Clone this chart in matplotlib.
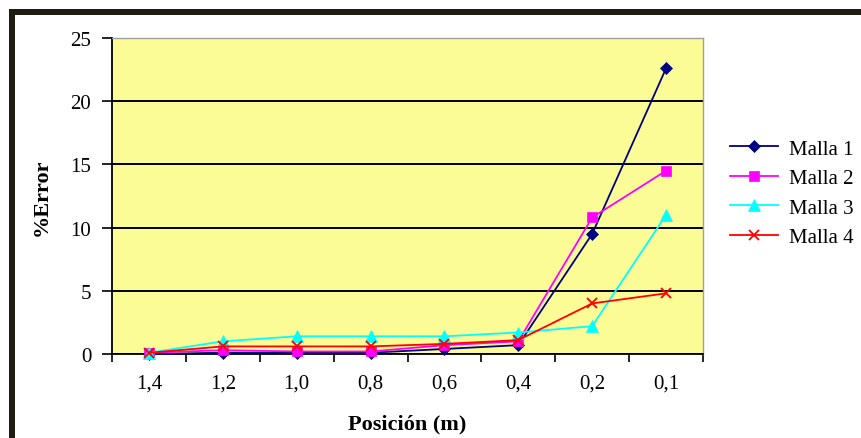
import matplotlib
matplotlib.use("Agg")
import matplotlib.pyplot as plt
from matplotlib.patches import Rectangle
from matplotlib.ticker import FixedLocator, NullFormatter

plt.rcParams['font.family'] = ['Liberation Serif', 'DejaVu Serif']

posiciones = ["1,4", "1,2", "1,0", "0,8", "0,6", "0,4", "0,2", "0,1"]
malla_1 = [0.0, 0.1, 0.1, 0.1, 0.4, 0.7, 9.5, 22.6]
malla_2 = [0.1, 0.3, 0.2, 0.2, 0.7, 1.0, 10.8, 14.5]
malla_3 = [0.1, 1.0, 1.4, 1.4, 1.4, 1.7, 2.2, 11.0]
malla_4 = [0.1, 0.6, 0.6, 0.6, 0.8, 1.1, 4.0, 4.8]
etiquetas = ["Malla 1", "Malla 2", "Malla 3", "Malla 4"]

W, H = 861, 439
fig = plt.figure(figsize=(W / 100, H / 100), dpi=100)
fig.patch.set_facecolor("white")

# thick dark frame along the top and left edges
frame_col = "#1f1b10"
fig.patches.append(Rectangle((9 / W, 0), 6 / W, (H - 10) / H, transform=fig.transFigure,
                             facecolor=frame_col, edgecolor="none", zorder=5))
fig.patches.append(Rectangle((9 / W, (H - 16) / H), (W - 9) / W, 6 / H, transform=fig.transFigure,
                             facecolor=frame_col, edgecolor="none", zorder=5))

ax = fig.add_axes([112 / W, (H - 355) / H, (703 - 112) / W, (355 - 39) / H])
ax.set_facecolor("#FCFC96")

x = list(range(len(posiciones)))
series = [
    (malla_1, "#000080", "D", 6),
    (malla_2, "#FF00FF", "s", 7),
    (malla_3, "#00FFFF", "^", 8),
    (malla_4, "#FF0000", "x", 7),
]
for (vals, col, mk, ms), lab in zip(series, etiquetas):
    ax.plot(x, vals, color=col, marker=mk, markersize=ms, linewidth=1.3,
            markeredgewidth=1.3 if mk == "x" else 0.5, markeredgecolor=col,
            label=lab, zorder=3, clip_on=False)

ax.set_xlim(-0.5, len(posiciones) - 0.5)
ax.set_ylim(0, 25)
ax.set_yticks([0, 5, 10, 15, 20, 25])
ax.yaxis.grid(True, color="black", linewidth=1.4)
ax.set_axisbelow(True)

ax.xaxis.set_major_locator(FixedLocator([i - 0.5 for i in range(len(posiciones) + 1)]))
ax.xaxis.set_major_formatter(NullFormatter())
ax.xaxis.set_minor_locator(FixedLocator(x))
ax.set_xticklabels(posiciones, minor=True)
ax.tick_params(axis="x", which="major", length=6, width=1.2, direction="out", color="black")
ax.tick_params(axis="x", which="minor", length=0, pad=14, labelsize=15)
ax.tick_params(axis="y", length=7, width=1.2, direction="out", labelsize=15, pad=8)

for s in ["left", "bottom"]:
    ax.spines[s].set_color("black")
    ax.spines[s].set_linewidth(1.3)
for s in ["top", "right"]:
    ax.spines[s].set_color("#a0a0a0")
    ax.spines[s].set_linewidth(1.0)

ax.set_xlabel("Posición (m)", fontsize=16, fontweight="bold", labelpad=15)
ax.set_ylabel("%Error", fontsize=16, fontweight="bold", labelpad=13)

leg = ax.legend(loc="upper left", bbox_to_anchor=(730 / W, 1 - 140 / H),
                bbox_transform=fig.transFigure, frameon=False,
                fontsize=15, handlelength=2.3, handletextpad=0.55, labelspacing=0.48,
                borderaxespad=0, borderpad=0)

fig.savefig("out.png", dpi=100, facecolor="white")
